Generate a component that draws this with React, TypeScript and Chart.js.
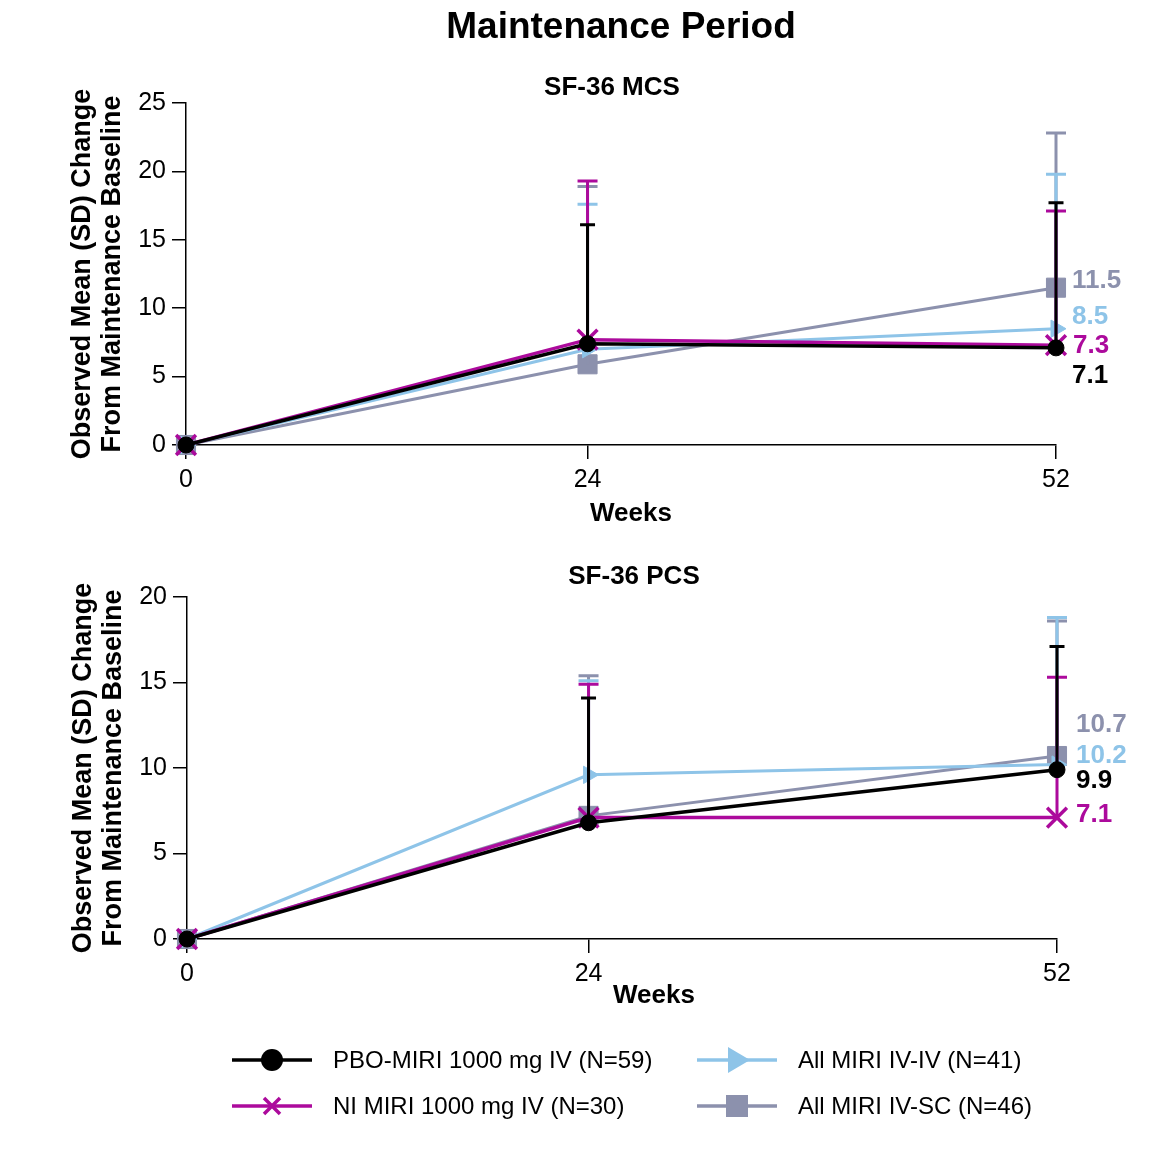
import React, { useEffect, useRef } from 'react';
import { Chart, registerables } from 'chart.js';

Chart.register(...registerables);

// ---------- data ----------
const weeks = [0, 24, 52];
const xTickValues = [0, 24, 52];
const mcsYTicks = [0, 5, 10, 15, 20, 25];
const pcsYTicks = [0, 5, 10, 15, 20];

const seriesNames = [
  'PBO-MIRI 1000 mg IV (N=59)',
  'NI MIRI 1000 mg IV (N=30)',
  'All MIRI IV-IV (N=41)',
  'All MIRI IV-SC (N=46)',
];

// SF-36 MCS: mean change and SD
const mcsPbo = [0, 7.4, 7.1];
const mcsPboSd = [0, 8.7, 10.6];
const mcsNi = [0, 7.7, 7.3];
const mcsNiSd = [0, 11.6, 9.8];
const mcsIvIv = [0, 7.0, 8.5];
const mcsIvIvSd = [0, 10.6, 11.3];
const mcsIvSc = [0, 5.9, 11.5];
const mcsIvScSd = [0, 13.0, 11.3];

// SF-36 PCS: mean change and SD
const pcsPbo = [0, 6.8, 9.9];
const pcsPboSd = [0, 7.3, 7.2];
const pcsNi = [0, 7.1, 7.1];
const pcsNiSd = [0, 7.8, 8.2];
const pcsIvIv = [0, 9.6, 10.2];
const pcsIvIvSd = [0, 5.5, 8.6];
const pcsIvSc = [0, 7.2, 10.7];
const pcsIvScSd = [0, 8.2, 7.9];

// ---------- styles ----------
const FONT = '"Liberation Sans", Arial, Helvetica, sans-serif';
const STYLES = [
  { color: '#000000', pointStyle: 'circle', radius: 8, rotation: 0, lineWidth: 3.5, pbw: 1, cap: 15, errW: 3 },
  { color: '#AC0A9C', pointStyle: 'crossRot', radius: 14, rotation: 0, lineWidth: 3.5, pbw: 3.5, cap: 20, errW: 3 },
  { color: '#8EC4E8', pointStyle: 'triangle', radius: 10, rotation: 90, lineWidth: 3, pbw: 1, cap: 20, errW: 3 },
  { color: '#8C91AD', pointStyle: 'rect', radius: 13.5, rotation: 0, lineWidth: 3, pbw: 1, cap: 20, errW: 3 },
];

// pixel offsets of the end-value labels (style only)
const mcsLabelOffsets = [
  { dx: 16, dy: 28 },
  { dx: 17, dy: 1 },
  { dx: 16, dy: -12 },
  { dx: 16, dy: -7 },
];
const pcsLabelOffsets = [
  { dx: 19, dy: 11 },
  { dx: 19, dy: -3 },
  { dx: 19, dy: -9 },
  { dx: 19, dy: -31 },
];

function buildDatasets(means: number[][], sds: number[][]) {
  return means.map((m, k) => {
    const s = STYLES[k];
    return {
      label: seriesNames[k],
      data: m.map((v, i) => ({ x: weeks[i], y: v })),
      sd: sds[k],
      errW: s.errW,
      cap: s.cap,
      borderColor: s.color,
      backgroundColor: s.color,
      borderWidth: s.lineWidth,
      pointStyle: s.pointStyle,
      pointRadius: s.radius,
      pointRotation: s.rotation,
      pointBackgroundColor: s.color,
      pointBorderColor: s.color,
      pointBorderWidth: s.pbw,
      tension: 0,
      fill: false,
      clip: false,
    };
  });
}

const errorBarPlugin = {
  id: 'errorBars',
  afterDatasetDraw(chart: any, args: any) {
    const ds = chart.data.datasets[args.index];
    if (!ds.sd) return;
    const ys = chart.scales.y;
    const ctx = chart.ctx;
    ctx.save();
    ctx.strokeStyle = ds.borderColor;
    ctx.lineWidth = ds.errW;
    ctx.lineCap = 'butt';
    args.meta.data.forEach((pt: any, i: number) => {
      const s = ds.sd[i];
      if (!s) return;
      const v = ds.data[i].y;
      const yTop = ys.getPixelForValue(v + s);
      ctx.beginPath();
      ctx.moveTo(pt.x, pt.y);
      ctx.lineTo(pt.x, yTop);
      ctx.moveTo(pt.x - ds.cap / 2, yTop);
      ctx.lineTo(pt.x + ds.cap / 2, yTop);
      ctx.stroke();
    });
    ctx.restore();
  },
};

function drawMarker(ctx: CanvasRenderingContext2D, k: number, x: number, y: number) {
  const s = STYLES[k];
  ctx.save();
  ctx.fillStyle = s.color;
  ctx.strokeStyle = s.color;
  if (s.pointStyle === 'circle') {
    ctx.beginPath();
    ctx.arc(x, y, 11, 0, Math.PI * 2);
    ctx.fill();
  } else if (s.pointStyle === 'crossRot') {
    ctx.lineWidth = 3.5;
    const d = 8;
    ctx.beginPath();
    ctx.moveTo(x - d, y - d);
    ctx.lineTo(x + d, y + d);
    ctx.moveTo(x - d, y + d);
    ctx.lineTo(x + d, y - d);
    ctx.stroke();
  } else if (s.pointStyle === 'triangle') {
    ctx.beginPath();
    ctx.moveTo(x + 13, y);
    ctx.lineTo(x - 9, y - 13);
    ctx.lineTo(x - 9, y + 13);
    ctx.closePath();
    ctx.fill();
  } else {
    ctx.fillRect(x - 11, y - 11, 22, 22);
  }
  ctx.restore();
}

function makeTextPlugin(cfg: any) {
  return {
    id: 'texts',
    afterDraw(chart: any) {
      const ctx = chart.ctx;
      const xs = chart.scales.x;
      const ys = chart.scales.y;
      const area = chart.chartArea;
      ctx.save();
      ctx.fillStyle = '#000';
      ctx.textAlign = 'center';
      ctx.textBaseline = 'alphabetic';
      if (cfg.mainTitle) {
        ctx.font = `bold 37px ${FONT}`;
        ctx.fillText(cfg.mainTitle, (area.left + area.right) / 2, cfg.mainTitleY);
      }
      ctx.font = `bold 26px ${FONT}`;
      ctx.fillText(cfg.subTitle, cfg.subTitleX, cfg.subTitleY);
      ctx.fillText('Weeks', cfg.weeksX, cfg.weeksY);

      // y-axis title (two lines, rotated)
      const cy = (area.top + area.bottom) / 2;
      ctx.font = `bold 27px ${FONT}`;
      ['Observed Mean (SD) Change', 'From Maintenance Baseline'].forEach((t, i) => {
        ctx.save();
        ctx.translate(cfg.yTitleX[i], cy);
        ctx.rotate(-Math.PI / 2);
        ctx.fillText(t, 0, 0);
        ctx.restore();
      });

      // end-value labels
      ctx.textAlign = 'left';
      ctx.textBaseline = 'middle';
      ctx.font = `bold 26px ${FONT}`;
      chart.data.datasets.forEach((ds: any, k: number) => {
        const last = ds.data[ds.data.length - 1];
        const off = cfg.labelOffsets[k];
        ctx.fillStyle = STYLES[k].color;
        ctx.fillText(
          last.y.toFixed(1),
          xs.getPixelForValue(last.x) + off.dx,
          ys.getPixelForValue(last.y) + off.dy
        );
      });

      // legend
      if (cfg.legend) {
        const L = cfg.legend;
        ctx.font = `24px ${FONT}`;
        ctx.textBaseline = 'middle';
        ctx.fillStyle = '#000';
        const positions = [
          { x: L.col1, y: L.row1 },
          { x: L.col1, y: L.row2 },
          { x: L.col2, y: L.row1 },
          { x: L.col2, y: L.row2 },
        ];
        positions.forEach((p, k) => {
          const s = STYLES[k];
          ctx.save();
          ctx.strokeStyle = s.color;
          ctx.lineWidth = 3.5;
          ctx.beginPath();
          ctx.moveTo(p.x, p.y);
          ctx.lineTo(p.x + 80, p.y);
          ctx.stroke();
          ctx.restore();
          drawMarker(ctx, k, p.x + 40, p.y);
          ctx.fillStyle = '#000';
          ctx.fillText(seriesNames[k], p.x + 101, p.y + 1);
        });
      }
      ctx.restore();
    },
  };
}

function makeConfig(
  means: number[][],
  sds: number[][],
  yTicks: number[],
  layout: { left: number; right: number; top: number; bottom: number; width: number; height: number },
  textCfg: any
) {
  const axisCommon = {
    type: 'linear' as const,
    grid: {
      display: true,
      drawOnChartArea: false,
      drawTicks: true,
      tickLength: 14,
      color: '#000',
      lineWidth: 1.5,
    },
    border: { display: true, color: '#000', width: 1.5 },
  };
  return {
    type: 'line' as const,
    data: { datasets: buildDatasets(means, sds) },
    options: {
      animation: false as const,
      responsive: false,
      maintainAspectRatio: false,
      devicePixelRatio: 1,
      layout: {
        padding: {
          left: 0,
          right: layout.width - layout.right,
          top: layout.top,
          bottom: 0,
        },
      },
      plugins: {
        legend: { display: false },
        tooltip: { enabled: false },
        title: { display: false },
      },
      scales: {
        x: {
          ...axisCommon,
          min: weeks[0],
          max: weeks[weeks.length - 1],
          afterBuildTicks: (axis: any) => {
            axis.ticks = xTickValues.map((v) => ({ value: v }));
          },
          afterFit: (axis: any) => {
            axis.height = layout.height - layout.bottom;
          },
          ticks: {
            color: '#000',
            font: { family: FONT, size: 25 },
            padding: 6,
            maxRotation: 0,
            autoSkip: false,
          },
        },
        y: {
          ...axisCommon,
          min: yTicks[0],
          max: yTicks[yTicks.length - 1],
          afterBuildTicks: (axis: any) => {
            axis.ticks = yTicks.map((v) => ({ value: v }));
          },
          afterFit: (axis: any) => {
            axis.width = layout.left;
          },
          ticks: {
            color: '#000',
            font: { family: FONT, size: 25 },
            padding: 6,
            autoSkip: false,
          },
        },
      },
    },
    plugins: [errorBarPlugin, makeTextPlugin(textCfg)],
  };
}

function ChartCanvas({ config, width, height, top }: any) {
  const ref = useRef<HTMLCanvasElement | null>(null);
  useEffect(() => {
    if (!ref.current) return;
    const chart = new Chart(ref.current, config);
    return () => chart.destroy();
  }, [config]);
  return (
    <canvas
      ref={ref}
      width={width}
      height={height}
      style={{ position: 'absolute', left: 0, top, width, height, display: 'block' }}
    />
  );
}

const W = 1149;
const TOP_H = 540;
const BOT_H = 636;

const topConfig = makeConfig(
  [mcsPbo, mcsNi, mcsIvIv, mcsIvSc],
  [mcsPboSd, mcsNiSd, mcsIvIvSd, mcsIvScSd],
  mcsYTicks,
  { left: 186, right: 1056, top: 103, bottom: 445, width: W, height: TOP_H },
  {
    mainTitle: 'Maintenance Period',
    mainTitleY: 38,
    subTitle: 'SF-36 MCS',
    subTitleX: 612,
    subTitleY: 95,
    weeksX: 631,
    weeksY: 521,
    yTitleX: [90, 120],
    labelOffsets: mcsLabelOffsets,
  }
);

const botConfig = makeConfig(
  [pcsPbo, pcsNi, pcsIvIv, pcsIvSc],
  [pcsPboSd, pcsNiSd, pcsIvIvSd, pcsIvScSd],
  pcsYTicks,
  { left: 187, right: 1057, top: 57, bottom: 399, width: W, height: BOT_H },
  {
    subTitle: 'SF-36 PCS',
    subTitleX: 634,
    subTitleY: 44,
    weeksX: 654,
    weeksY: 463,
    yTitleX: [91, 121],
    labelOffsets: pcsLabelOffsets,
    legend: { col1: 232, col2: 697, row1: 520, row2: 566 },
  }
);

export default function App() {
  return (
    <div style={{ position: 'absolute', left: 0, top: 0, width: W, height: TOP_H + BOT_H, background: '#fff' }}>
      <ChartCanvas config={topConfig} width={W} height={TOP_H} top={0} />
      <ChartCanvas config={botConfig} width={W} height={BOT_H} top={TOP_H} />
    </div>
  );
}
